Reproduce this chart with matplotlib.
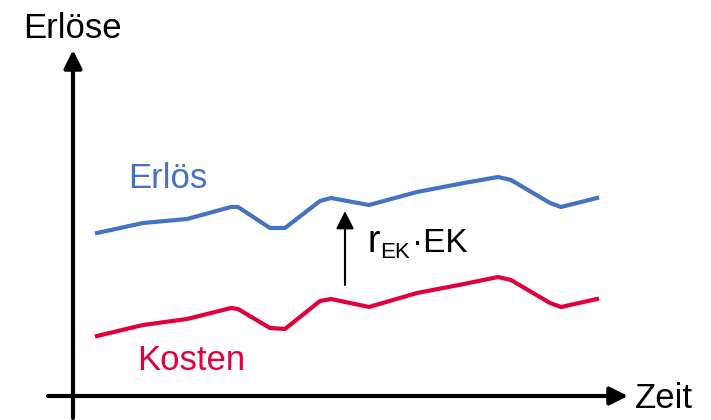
import matplotlib
matplotlib.use('Agg')
import matplotlib.pyplot as plt

plt.rcParams['font.family'] = ['Liberation Sans', 'DejaVu Sans']

# values (origin at the axis crossing)
zeit = [24, 70, 114, 158, 165, 197, 212, 247, 258, 296, 344, 391, 425, 438, 477, 488, 524]
erloes = [163, 173, 177, 189, 189, 168, 168, 195, 198, 191, 204, 213, 219, 216, 193, 189, 198]
kosten = [60, 71, 77, 88, 87, 68, 67, 95, 97, 89, 103, 112, 119, 116, 93, 89, 97]

blau = '#4472C4'
rot = '#E2003C'

fig = plt.figure(figsize=(7.11, 4.2), dpi=100)
ax = fig.add_axes([0, 0, 1, 1])
ax.set_xlim(-73, 638)
ax.set_ylim(-24, 396)
ax.axis('off')

# axes as arrows
pfeil = dict(arrowstyle='-|>', lw=3, color='black', mutation_scale=27,
             shrinkA=0, shrinkB=0)
ax.annotate('', xy=(0, 346), xytext=(0, -22), arrowprops=pfeil)
ax.annotate('', xy=(555, 0), xytext=(-25, 0), arrowprops=pfeil)

ax.plot(zeit, erloes, color=blau, lw=3, solid_joinstyle='round')
ax.plot(zeit, kosten, color=rot, lw=3, solid_joinstyle='round')

# gap between the curves
ax.annotate('', xy=(272, 185), xytext=(272, 111),
            arrowprops=dict(arrowstyle='-|>', lw=1.5, color='black',
                            mutation_scale=27, shrinkA=0, shrinkB=0))
ax.text(294, 144, 'r', fontsize=27, ha='left', va='baseline')
ax.text(307, 138, 'EK', fontsize=16, ha='left', va='baseline')
ax.text(339, 144, '\u00b7EK', fontsize=24, ha='left', va='baseline')

ax.text(-50, 358, 'Erlöse', fontsize=25, ha='left', va='baseline')
ax.text(562, -12, 'Zeit', fontsize=25, ha='left', va='baseline')
ax.text(55, 208, 'Erlös', fontsize=25, color=blau, ha='left', va='baseline')
ax.text(64, 26, 'Kosten', fontsize=25, color=rot, ha='left', va='baseline')

fig.savefig('out.png', dpi=100)
